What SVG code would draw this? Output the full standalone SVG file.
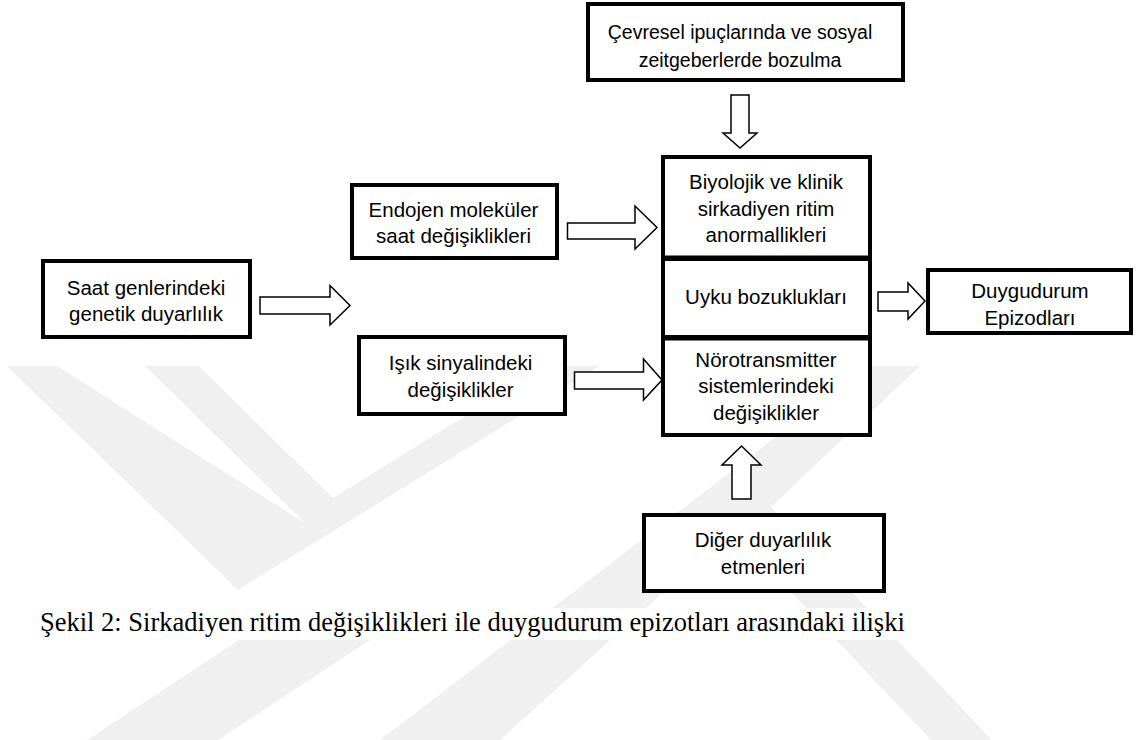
<svg xmlns="http://www.w3.org/2000/svg" width="1137" height="740" viewBox="0 0 1137 740">
<style>
.box{fill:#fff;stroke:#000;stroke-width:4}
.lbl{font-family:"Liberation Sans",Arial,sans-serif;font-size:20.5px;fill:#000;text-anchor:middle}
.top{font-size:19.5px}
.arr{fill:#fff;stroke:#000;stroke-width:1.5;stroke-linejoin:miter}
.wm{fill:#f0f0f0}
.cap{font-family:"Liberation Serif","Times New Roman",serif;font-size:26.5px;fill:#000}
</style>
<rect width="1137" height="740" fill="#fff"/>
<g id="watermark">
<polygon class="wm" points="7,366 57,366 305,523 145,366 199,366 333,498 546,366 600,366 238,590"/>
<polygon class="wm" points="869,366 920,366 771,507 992,740 931,740 732,530 500,740 380,740"/>
<polygon class="wm" points="87,740 218,740 370,640 239,640"/>
</g>
<g id="caption">
<rect x="0" y="608" width="914" height="32" fill="#fff"/>
<text class="cap" x="40" y="631">Şekil 2: Sirkadiyen ritim değişiklikleri ile duygudurum epizotları arasındaki ilişki</text>
</g>
<g id="connectors">
<polygon class="arr" points="731,95 749,95 749,133 757,133 740,148 723,133 731,133"/>
<polygon class="arr" points="732,499 751,499 751,465 761,465 741.5,446 722,465 732,465"/>
<polygon class="arr" points="260,297 330,297 330,285.5 350,305.5 330,325 330,314 260,314"/>
<polygon class="arr" points="567.5,223 635,223 635,206 657,227.5 635,249 635,239 567.5,239"/>
<polygon class="arr" points="574.5,372 643.5,372 643.5,359 662,380 643.5,400 643.5,389 574.5,389"/>
<polygon class="arr" points="878,292 908,292 908,283 925,301 908,319 908,311 878,311"/>
</g>
<g id="node-cevresel">
<rect class="box" x="588" y="4" width="315" height="76"/>
<text class="lbl top" x="740" y="38.5">Çevresel ipuçlarında ve sosyal</text>
<text class="lbl top" x="740" y="66.5">zeitgeberlerde bozulma</text>
</g>
<g id="node-endojen">
<rect class="box" x="352" y="185" width="205" height="73"/>
<text class="lbl" x="453.5" y="216.7">Endojen moleküler</text>
<text class="lbl" x="453.5" y="242.7">saat değişiklikleri</text>
</g>
<g id="node-saat">
<rect class="box" x="43" y="261" width="207" height="76"/>
<text class="lbl" x="146" y="295">Saat genlerindeki</text>
<text class="lbl" x="146" y="321">genetik duyarlılık</text>
</g>
<g id="node-isik">
<rect class="box" x="359" y="337" width="206" height="77"/>
<text class="lbl" x="460.5" y="370">Işık sinyalindeki</text>
<text class="lbl" x="460.5" y="397">değişiklikler</text>
</g>
<g id="node-biyolojik">
<rect class="box" x="663" y="157" width="207" height="100.5"/>
<text class="lbl" x="766" y="189">Biyolojik ve klinik</text>
<text class="lbl" x="766" y="215.5">sirkadiyen ritim</text>
<text class="lbl" x="766" y="241.7">anormallikleri</text>
</g>
<g id="node-uyku">
<rect class="box" x="663" y="259" width="207" height="78"/>
<text class="lbl" x="766" y="304">Uyku bozuklukları</text>
</g>
<g id="node-norotransmitter">
<rect class="box" x="663" y="338.5" width="207" height="96.5"/>
<text class="lbl" x="766" y="366.7">Nörotransmitter</text>
<text class="lbl" x="766" y="393">sistemlerindeki</text>
<text class="lbl" x="766" y="420">değişiklikler</text>
</g>
<g id="node-duygudurum">
<rect class="box" x="928" y="270" width="203" height="63"/>
<text class="lbl" x="1030" y="298.3">Duygudurum</text>
<text class="lbl" x="1030" y="325">Epizodları</text>
</g>
<g id="node-diger">
<rect class="box" x="644" y="515" width="240" height="76"/>
<text class="lbl" x="763" y="546.5">Diğer duyarlılık</text>
<text class="lbl" x="763" y="574">etmenleri</text>
</g>
</svg>
